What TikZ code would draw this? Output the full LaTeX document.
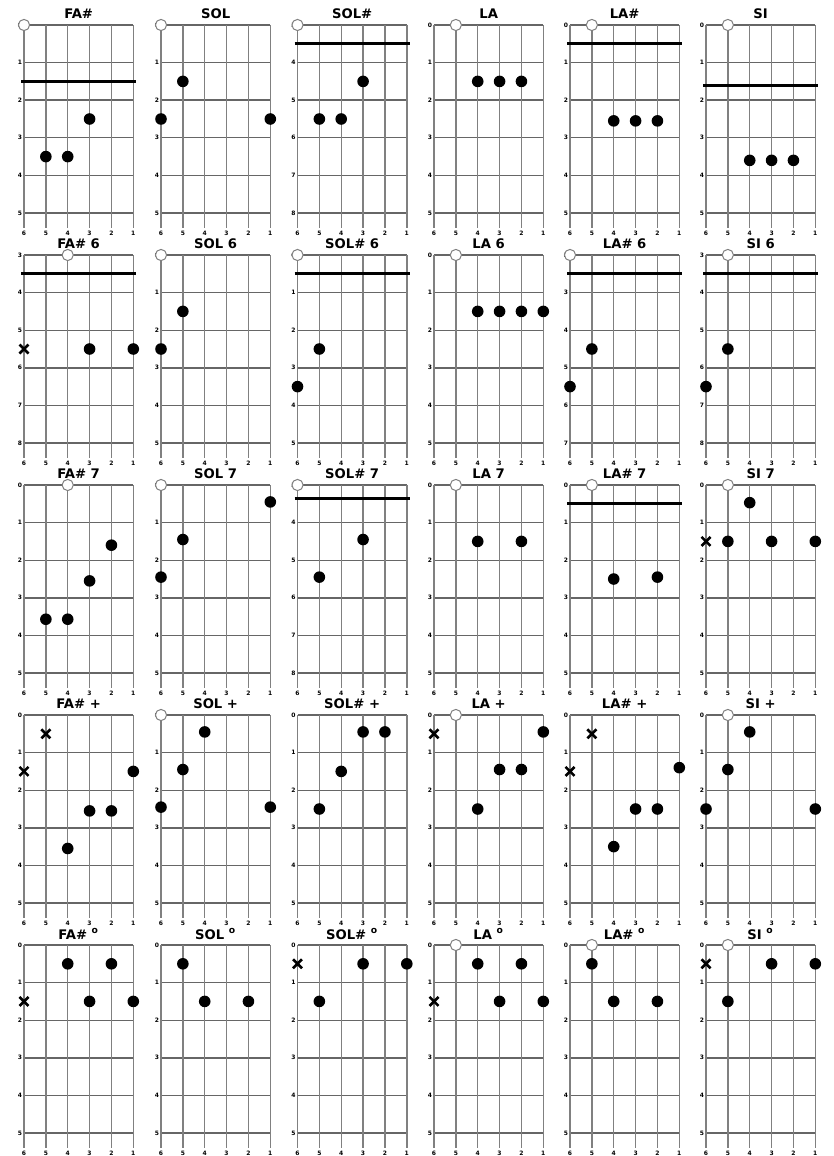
\documentclass[tikz,border=0pt]{standalone}
\usepackage{fontspec}
\setmainfont{DejaVu Sans}
\usepackage{tikz}

\newcommand{\chordgrid}[6]{%
  \begin{scope}[shift={(#2,#3)}]
    \foreach \f in {0,...,5}
      \draw[fretline] (0,{\f*37.6}) -- (109.3,{\f*37.6});
    \foreach \s in {0,...,5}
      \draw[stringline] ({\s*21.86},0) -- ({\s*21.86},203);
    \foreach \f [evaluate=\f as \lab using int(\f+#5)] in {0,...,5}
      \node[fretnum] (#1-f\f) at (-4,{\f*37.6}) {\lab};
    \foreach \s [evaluate=\s as \lab using int(6-\s)] in {0,...,5}
      \node[stringnum] (#1-s\s) at ({\s*21.86},208) {\lab};
    \node[chordname] (#1) at (54.65,-11) {#4};
    #6
  \end{scope}}
\newcommand{\fingdot}[2]{\fill ({(6-#1)*21.86},{#2*37.6}) circle (2.9pt);}
\newcommand{\openstring}[1]{\draw[openmark] ({(6-#1)*21.86},0) circle (2.8pt);}
\newcommand{\mutestring}[2]{\draw[mutemark] ({(6-#1)*21.86-4.5},{#2*37.6-4.5}) -- ++(9,9)
  ({(6-#1)*21.86-4.5},{#2*37.6+4.5}) -- ++(9,-9);}
\newcommand{\barreline}[1]{\draw[barremark] (-3,{#1*37.6}) -- (112.3,{#1*37.6});}

\begin{document}
\begin{tikzpicture}[
    x=0.5pt, y=-0.5pt,
    fretline/.style={draw=black!60, line width=0.7pt},
    stringline/.style={draw=black!50, line width=0.7pt},
    fretnum/.style={font=\fontsize{3}{3}\selectfont\bfseries, inner sep=0pt},
    stringnum/.style={font=\fontsize{3}{3}\selectfont\bfseries, inner sep=0pt},
    chordname/.style={font=\fontsize{6.6}{7}\selectfont\bfseries, inner sep=0pt},
    openmark/.style={draw=black!50, fill=white, line width=0.5pt},
    mutemark/.style={draw=black, line width=1.3pt},
    barremark/.style={draw=black, line width=1.5pt}
]
\fill[white] (0,0) rectangle (834,1156);
\useasboundingbox (0,0) rectangle (834,1156);

\chordgrid{fas}{24}{25}{FA\#}{0}{\openstring{6}\barreline{1.5}\fingdot{3}{2.5}\fingdot{5}{3.5}\fingdot{4}{3.5}}
\chordgrid{sol}{161}{25}{SOL}{0}{\openstring{6}\fingdot{5}{1.5}\fingdot{6}{2.5}\fingdot{1}{2.5}}
\chordgrid{sols}{297.5}{25}{SOL\#}{3}{\openstring{6}\barreline{0.5}\fingdot{3}{1.5}\fingdot{5}{2.5}\fingdot{4}{2.5}}
\chordgrid{la}{434}{25}{LA}{0}{\openstring{5}\fingdot{4}{1.5}\fingdot{3}{1.5}\fingdot{2}{1.5}}
\chordgrid{las}{570}{25}{LA\#}{0}{\openstring{5}\barreline{0.5}\fingdot{4}{2.55}\fingdot{3}{2.55}\fingdot{2}{2.55}}
\chordgrid{si}{706}{25}{SI}{0}{\openstring{5}\barreline{1.62}\fingdot{4}{3.6}\fingdot{3}{3.6}\fingdot{2}{3.6}}

\chordgrid{fas6}{24}{255}{FA\# 6}{3}{\openstring{4}\barreline{0.5}\mutestring{6}{2.5}\fingdot{3}{2.5}\fingdot{1}{2.5}}
\chordgrid{sol6}{161}{255}{SOL 6}{0}{\openstring{6}\fingdot{5}{1.5}\fingdot{6}{2.5}}
\chordgrid{sols6}{297.5}{255}{SOL\# 6}{0}{\openstring{6}\barreline{0.5}\fingdot{5}{2.5}\fingdot{6}{3.5}}
\chordgrid{la6}{434}{255}{LA 6}{0}{\openstring{5}\fingdot{4}{1.5}\fingdot{3}{1.5}\fingdot{2}{1.5}\fingdot{1}{1.5}}
\chordgrid{las6}{570}{255}{LA\# 6}{2}{\openstring{6}\barreline{0.5}\fingdot{5}{2.5}\fingdot{6}{3.5}}
\chordgrid{si6}{706}{255}{SI 6}{3}{\openstring{5}\barreline{0.5}\fingdot{5}{2.5}\fingdot{6}{3.5}}

\chordgrid{fas7}{24}{485}{FA\# 7}{0}{\openstring{4}\fingdot{2}{1.6}\fingdot{3}{2.55}\fingdot{5}{3.57}\fingdot{4}{3.57}}
\chordgrid{sol7}{161}{485}{SOL 7}{0}{\openstring{6}\fingdot{1}{0.45}\fingdot{5}{1.45}\fingdot{6}{2.45}}
\chordgrid{sols7}{297.5}{485}{SOL\# 7}{3}{\openstring{6}\barreline{0.35}\fingdot{3}{1.45}\fingdot{5}{2.45}}
\chordgrid{la7}{434}{485}{LA 7}{0}{\openstring{5}\fingdot{4}{1.5}\fingdot{2}{1.5}}
\chordgrid{las7}{570}{485}{LA\# 7}{0}{\openstring{5}\barreline{0.48}\fingdot{4}{2.5}\fingdot{2}{2.45}}
\chordgrid{si7}{706}{485}{SI 7}{0}{\openstring{5}\fingdot{4}{0.47}\mutestring{6}{1.5}\fingdot{5}{1.5}\fingdot{3}{1.5}\fingdot{1}{1.5}}

\chordgrid{fasaug}{24}{715}{FA\# +}{0}{\mutestring{5}{0.5}\mutestring{6}{1.5}\fingdot{1}{1.5}\fingdot{3}{2.55}\fingdot{2}{2.55}\fingdot{4}{3.55}}
\chordgrid{solaug}{161}{715}{SOL +}{0}{\openstring{6}\fingdot{4}{0.45}\fingdot{5}{1.45}\fingdot{6}{2.45}\fingdot{1}{2.45}}
\chordgrid{solsaug}{297.5}{715}{SOL\# +}{0}{\fingdot{3}{0.45}\fingdot{2}{0.45}\fingdot{4}{1.5}\fingdot{5}{2.5}}
\chordgrid{laaug}{434}{715}{LA +}{0}{\mutestring{6}{0.5}\openstring{5}\fingdot{1}{0.45}\fingdot{3}{1.45}\fingdot{2}{1.45}\fingdot{4}{2.5}}
\chordgrid{lasaug}{570}{715}{LA\# +}{0}{\mutestring{5}{0.5}\mutestring{6}{1.5}\fingdot{1}{1.4}\fingdot{3}{2.5}\fingdot{2}{2.5}\fingdot{4}{3.5}}
\chordgrid{siaug}{706}{715}{SI +}{0}{\openstring{5}\fingdot{4}{0.45}\fingdot{5}{1.45}\fingdot{6}{2.5}\fingdot{1}{2.5}}

\chordgrid{fasdim}{24}{945}{FA\# \textsuperscript{o}}{0}{\fingdot{4}{0.5}\fingdot{2}{0.5}\mutestring{6}{1.5}\fingdot{3}{1.5}\fingdot{1}{1.5}}
\chordgrid{soldim}{161}{945}{SOL \textsuperscript{o}}{0}{\fingdot{5}{0.5}\fingdot{4}{1.5}\fingdot{2}{1.5}}
\chordgrid{solsdim}{297.5}{945}{SOL\# \textsuperscript{o}}{0}{\mutestring{6}{0.5}\fingdot{3}{0.5}\fingdot{1}{0.5}\fingdot{5}{1.5}}
\chordgrid{ladim}{434}{945}{LA \textsuperscript{o}}{0}{\openstring{5}\fingdot{4}{0.5}\fingdot{2}{0.5}\mutestring{6}{1.5}\fingdot{3}{1.5}\fingdot{1}{1.5}}
\chordgrid{lasdim}{570}{945}{LA\# \textsuperscript{o}}{0}{\openstring{5}\fingdot{5}{0.5}\fingdot{4}{1.5}\fingdot{2}{1.5}}
\chordgrid{sidim}{706}{945}{SI \textsuperscript{o}}{0}{\openstring{5}\mutestring{6}{0.5}\fingdot{3}{0.5}\fingdot{1}{0.5}\fingdot{5}{1.5}}
\end{tikzpicture}
\end{document}
